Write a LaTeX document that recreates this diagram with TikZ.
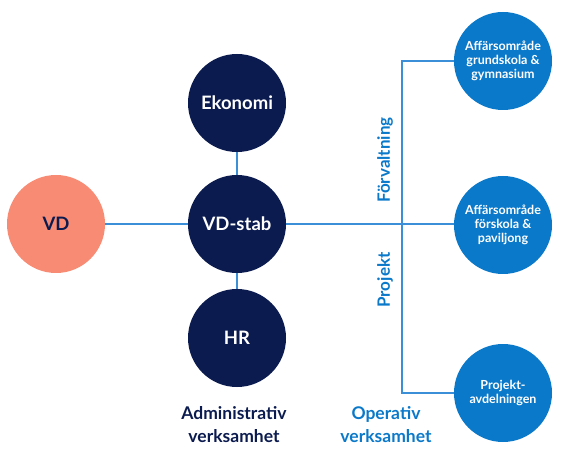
\documentclass[tikz,border=0pt]{standalone}
\usepackage{fontspec}
\setmainfont{Lato}
\definecolor{navy}{HTML}{0B1B4F}
\definecolor{cblue}{HTML}{0B79C9}
\definecolor{lblue}{HTML}{3B8FD8}
\definecolor{salmon}{HTML}{F88B74}
\begin{document}
\begin{tikzpicture}[x=1pt,y=-1pt,
  bigc/.style={circle,fill=navy,minimum size=98pt,inner sep=0pt,text=white,font=\fontsize{18.5}{20}\selectfont\bfseries},
  vdc/.style={circle,fill=salmon,minimum size=98pt,inner sep=0pt,text=navy,font=\fontsize{18.5}{20}\selectfont\bfseries},
  bluec/.style={circle,fill=cblue,minimum size=98pt,inner sep=0pt,text=white,align=center,font=\fontsize{12.5}{14}\selectfont\bfseries},
  conn/.style={draw=lblue,line width=1.3pt},
  side/.style={text=cblue,font=\fontsize{17}{18}\selectfont\bfseries,rotate=90},
  foot/.style={align=center,font=\fontsize{17.5}{23}\selectfont\bfseries}]
\useasboundingbox (0,0) rectangle (576,473);
\coordinate (top) at (402,61);
\coordinate (bot) at (402,393);
\coordinate (mid) at (402,225);
\draw[conn] (56,224) -- (503,224);
\draw[conn] (237,103) -- (237,338);
\draw[conn] (503,61) -- (top) -- (bot) -- (503,393);
\node[vdc] (vd) at (56,224) {VD};
\node[bigc] (stab) at (237,224) {VD-stab};
\node[bigc] (eko) at (237,103) {Ekonomi};
\node[bigc] (hr) at (237,338) {HR};
\node[bluec] (a1) at (503,61) {Affärsområde\\grundskola \&\\gymnasium};
\node[bluec] (a2) at (503,225) {Affärsområde\\förskola \&\\paviljong};
\node[bluec] (a3) at (503,393) {Projekt-\\avdelningen};
\node[side] (forv) at (385,160) {Förvaltning};
\node[side] (proj) at (385,280) {Projekt};
\node[foot,text=navy] (adm) at (234,425) {Administrativ\\verksamhet};
\node[foot,text=cblue] (op) at (386,425) {Operativ\\verksamhet};
\end{tikzpicture}
\end{document}
